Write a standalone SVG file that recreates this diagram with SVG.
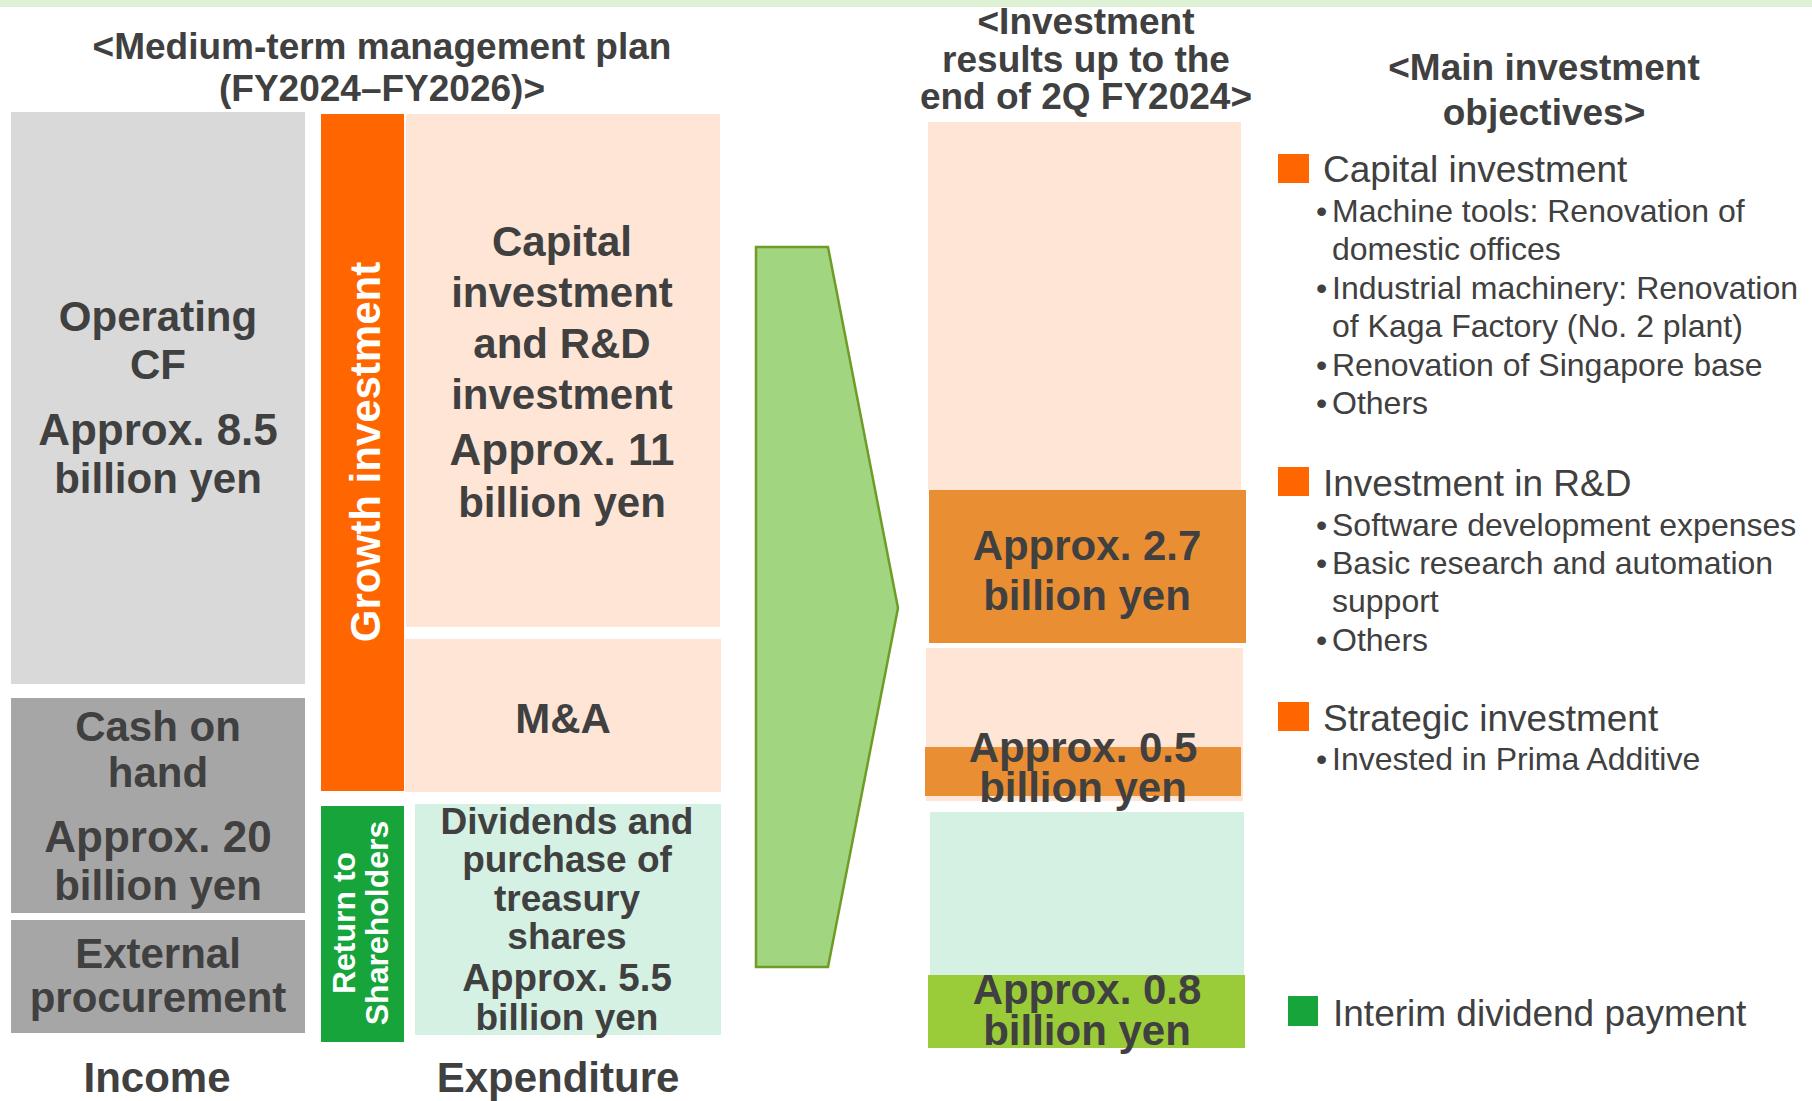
<svg xmlns="http://www.w3.org/2000/svg" width="1812" height="1101" viewBox="0 0 1812 1101">
<style>
.b{font-family:"Liberation Sans",Arial,sans-serif;font-weight:bold;fill:#404040;text-anchor:middle}
.r{font-family:"Liberation Sans",Arial,sans-serif;fill:#404040}
.f44{font-size:44px}
.f42{font-size:42px}
.f38{font-size:38.5px}
.f37{font-size:37px}
.f32{font-size:32px}
</style>
<rect x="0" y="0" width="1812" height="1101" fill="#FFFFFF"/>
<rect x="0" y="0" width="1812" height="7" fill="#DDF1D5"/>

<g id="title-plan">
<text class="b f37" x="382" y="59">&lt;Medium-term management plan</text>
<text class="b f37" x="382" y="101">(FY2024–FY2026)&gt;</text>
</g>

<g id="operating-cf">
<rect x="11" y="112" width="294" height="572" fill="#D9D9D9"/>
<text class="b f42" x="158" y="331">Operating</text>
<text class="b f42" x="158" y="379">CF</text>
<text class="b f44" x="158" y="445">Approx. 8.5</text>
<text class="b f42" x="158" y="493">billion yen</text>
</g>

<g id="cash-on-hand">
<rect x="11" y="698" width="294" height="215" fill="#A6A6A6"/>
<text class="b f42" x="158" y="741">Cash on</text>
<text class="b f42" x="158" y="787">hand</text>
<text class="b f44" x="158" y="852">Approx. 20</text>
<text class="b f42" x="158" y="900">billion yen</text>
</g>

<g id="external-procurement">
<rect x="11" y="920" width="294" height="113" fill="#A6A6A6"/>
<text class="b f42" x="158" y="968">External</text>
<text class="b f42" x="158" y="1012">procurement</text>
</g>

<g id="label-income">
<text class="b f42" x="157" y="1092">Income</text>
</g>

<g id="growth-investment">
<rect x="321" y="114" width="83" height="677" fill="#FF6600"/>
<text class="b f42" transform="translate(380,452) rotate(-90)" x="0" y="0" style="fill:#FFFFFF">Growth investment</text>
</g>

<g id="capital-rd">
<rect x="406" y="114" width="314" height="513" fill="#FEE5D6"/>
<text class="b f42" x="562" y="256">Capital</text>
<text class="b f42" x="562" y="307">investment</text>
<text class="b f42" x="562" y="358">and R&amp;D</text>
<text class="b f42" x="562" y="409">investment</text>
<text class="b f44" x="562" y="465">Approx. 11</text>
<text class="b f42" x="562" y="517">billion yen</text>
</g>

<g id="ma">
<rect x="405" y="639" width="316" height="153" fill="#FEE5D6"/>
<text class="b f42" x="563" y="733">M&amp;A</text>
</g>

<g id="return-shareholders">
<rect x="321" y="806" width="83" height="236" fill="#17A43B"/>
<text class="b f32" transform="translate(355,923) rotate(-90)" x="0" y="0" style="fill:#FFFFFF">Return to</text>
<text class="b f32" transform="translate(388,923) rotate(-90)" x="0" y="0" style="fill:#FFFFFF">Shareholders</text>
</g>

<g id="dividends">
<rect x="415" y="804" width="306" height="231" fill="#D5F1E3"/>
<text class="b f37" x="567" y="834">Dividends and</text>
<text class="b f37" x="567" y="872">purchase of</text>
<text class="b f37" x="567" y="911">treasury</text>
<text class="b f37" x="567" y="949">shares</text>
<text class="b f38" x="567" y="991">Approx. 5.5</text>
<text class="b f37" x="567" y="1030">billion yen</text>
</g>

<g id="label-expenditure">
<text class="b f42" x="558" y="1092">Expenditure</text>
</g>

<g id="connectors">
<polygon points="756,247 828,247 898,608 828,967 756,967" fill="#A2D57F" stroke="#6F9C27" stroke-width="2.5" stroke-linejoin="miter"/>
</g>

<g id="title-results">
<text class="b f37" x="1086" y="34">&lt;Investment</text>
<text class="b f37" x="1086" y="72">results up to the</text>
<text class="b f37" x="1086" y="109">end of 2Q FY2024&gt;</text>
</g>

<g id="result-capital-rd">
<rect x="928" y="122" width="313" height="368" fill="#FEE5D6"/>
<rect x="929" y="490" width="317" height="153" fill="#EA8E34"/>
<text class="b f42" x="1087" y="560">Approx. 2.7</text>
<text class="b f42" x="1087" y="610">billion yen</text>
</g>

<g id="result-ma">
<rect x="926" y="648" width="317" height="153" fill="#FEE5D6"/>
<rect x="925" y="747" width="316" height="49" fill="#EA8E34"/>
<text class="b f42" x="1083" y="762">Approx. 0.5</text>
<text class="b f42" x="1083" y="802">billion yen</text>
</g>

<g id="result-dividend">
<rect x="930" y="812" width="314" height="164" fill="#D5F1E3"/>
<rect x="928" y="975" width="317" height="73" fill="#9ACB39"/>
<text class="b f42" x="1087" y="1004">Approx. 0.8</text>
<text class="b f42" x="1087" y="1045">billion yen</text>
</g>

<g id="title-objectives">
<text class="b f37" x="1544" y="80">&lt;Main investment</text>
<text class="b f37" x="1544" y="125">objectives&gt;</text>
</g>

<g id="obj-capital">
<rect x="1278" y="154" width="31" height="29" fill="#FF6600"/>
<text class="r f37" x="1323" y="182">Capital investment</text>
<text class="r f32" y="222"><tspan x="1316">•</tspan><tspan x="1332">Machine tools: Renovation of</tspan></text>
<text class="r f32" x="1332" y="260">domestic offices</text>
<text class="r f32" y="299"><tspan x="1316">•</tspan><tspan x="1332">Industrial machinery: Renovation</tspan></text>
<text class="r f32" x="1332" y="337">of Kaga Factory (No. 2 plant)</text>
<text class="r f32" y="376"><tspan x="1316">•</tspan><tspan x="1332">Renovation of Singapore base</tspan></text>
<text class="r f32" y="414"><tspan x="1316">•</tspan><tspan x="1332">Others</tspan></text>
</g>

<g id="obj-rd">
<rect x="1278" y="467" width="31" height="29" fill="#FF6600"/>
<text class="r f37" x="1323" y="496">Investment in R&amp;D</text>
<text class="r f32" y="536"><tspan x="1316">•</tspan><tspan x="1332">Software development expenses</tspan></text>
<text class="r f32" y="574"><tspan x="1316">•</tspan><tspan x="1332">Basic research and automation</tspan></text>
<text class="r f32" x="1332" y="612">support</text>
<text class="r f32" y="651"><tspan x="1316">•</tspan><tspan x="1332">Others</tspan></text>
</g>

<g id="obj-strategic">
<rect x="1278" y="702" width="31" height="29" fill="#FF6600"/>
<text class="r f37" x="1323" y="731">Strategic investment</text>
<text class="r f32" y="770"><tspan x="1316">•</tspan><tspan x="1332">Invested in Prima Additive</tspan></text>
</g>

<g id="obj-dividend">
<rect x="1288" y="996" width="30" height="30" fill="#17A43B"/>
<text class="r f37" x="1333" y="1026">Interim dividend payment</text>
</g>
</svg>
